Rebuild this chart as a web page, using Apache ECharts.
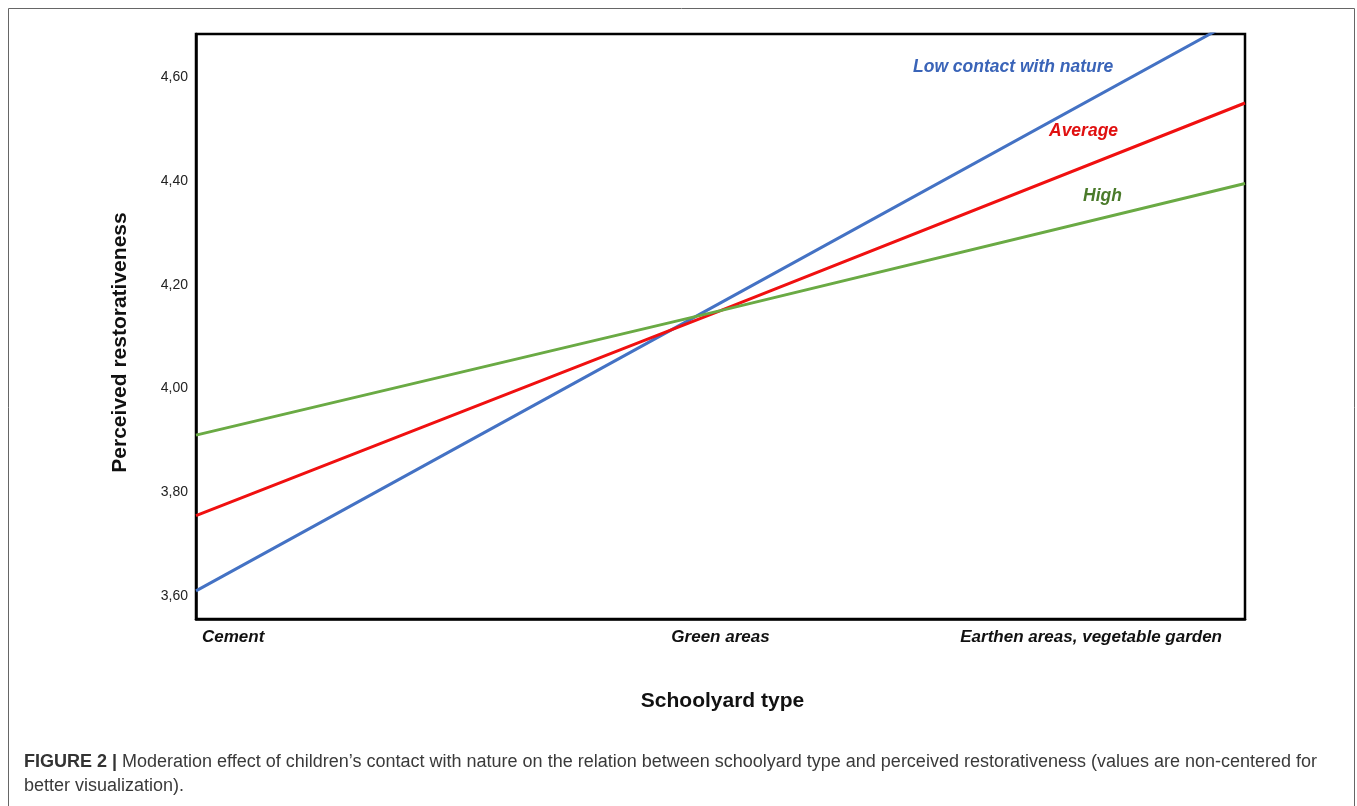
<!DOCTYPE html>
<html>
<head>
<meta charset="utf-8">
<script src="https://cdn.jsdelivr.net/npm/echarts@6/dist/echarts.min.js"></script>
<style>
html,body{margin:0;padding:0;background:#fff;}
#main{width:1357px;height:806px;}
</style>
</head>
<body>
<div id="main"></div>
<script>
// Data
var categories = ['Cement', 'Green areas', 'Earthen areas, vegetable garden'];
var lowContact = [3.61, 4.165, 4.72];
var average = [3.755, 4.15, 4.55];
var high = [3.91, 4.15, 4.395];
var yTicks = [3.6, 3.8, 4.0, 4.2, 4.4, 4.6];
var seriesNames = ['Low contact with nature', 'Average', 'High'];

var chart = echarts.init(document.getElementById('main'));
var FONT = '"Liberation Sans", Arial, sans-serif';
var XL = { fontFamily: FONT, fontSize: 17, fontWeight: 'bold', fontStyle: 'italic', color: '#111' };
var option = {
  animation: false,
  backgroundColor: '#fff',
  grid: {
    left: 196, top: 34, right: 112, bottom: 187,
    show: true, borderColor: '#000', borderWidth: 2.5, backgroundColor: 'transparent'
  },
  xAxis: {
    type: 'category',
    data: categories,
    boundaryGap: false,
    axisLine: { lineStyle: { color: '#000', width: 2.5 } },
    axisTick: { show: false },
    splitLine: { show: false },
    axisLabel: {
      margin: 10,
      alignMinLabel: 'left',
      alignMaxLabel: 'right',
      fontFamily: FONT, fontSize: 17, fontWeight: 'bold', fontStyle: 'italic', color: '#111',
      formatter: function (v, i) {
        if (i === 0) return '{l|' + v + '}';
        if (i === categories.length - 1) return '{r|' + v + '}';
        return '{c|' + v + '}';
      },
      rich: {
        l: Object.assign({ padding: [0, 0, 0, 6] }, XL),
        c: Object.assign({}, XL),
        r: Object.assign({ padding: [0, 23, 0, 0] }, XL)
      }
    },
    name: 'Schoolyard type',
    nameLocation: 'middle',
    nameGap: 72,
    nameTextStyle: { fontFamily: FONT, fontSize: 21, fontWeight: 'bold', color: '#111', padding: [0, 0, 0, 4] }
  },
  yAxis: {
    type: 'value',
    min: 3.5557,
    max: 4.683,
    axisLine: { show: true, lineStyle: { color: '#000', width: 2.5 } },
    axisTick: { show: false },
    splitLine: { show: false },
    axisLabel: {
      customValues: yTicks,
      margin: 8,
      fontFamily: FONT, fontSize: 14, color: '#222',
      formatter: function (v) { return v.toFixed(2).replace('.', ','); }
    },
    name: 'Perceived restorativeness',
    nameLocation: 'middle',
    nameGap: 65,
    nameRotate: 90,
    nameTextStyle: { fontFamily: FONT, fontSize: 21, fontWeight: 'bold', color: '#111', padding: [0, 32, 0, 0] }
  },
  series: [
    { name: seriesNames[0], type: 'line', data: lowContact, symbol: 'none', clip: true,
      lineStyle: { color: '#4472c4', width: 3 } },
    { name: seriesNames[1], type: 'line', data: average, symbol: 'none', clip: true,
      lineStyle: { color: '#f01010', width: 3 } },
    { name: seriesNames[2], type: 'line', data: high, symbol: 'none', clip: true,
      lineStyle: { color: '#6aaa44', width: 3 } }
  ],
  graphic: [
    { type: 'rect', shape: { x: 8.5, y: 8.5, width: 1346, height: 820 },
      style: { fill: 'none', stroke: '#666', lineWidth: 1 }, silent: true, z: -1 },
    { type: 'text', left: 913, top: 58,
      style: { text: seriesNames[0], fill: '#3a64b8', font: 'italic bold 17.5px ' + FONT } },
    { type: 'text', left: 1049, top: 122,
      style: { text: seriesNames[1], fill: '#e01010', font: 'italic bold 17.5px ' + FONT } },
    { type: 'text', left: 1083, top: 187,
      style: { text: seriesNames[2], fill: '#4a7a2a', font: 'italic bold 17.5px ' + FONT } },
    { type: 'text', left: 24, top: 750,
      style: {
        text: '{b|FIGURE 2 |} Moderation effect of children\u2019s contact with nature on the relation between schoolyard type and perceived restorativeness (values are non-centered for\nbetter visualization).',
        font: '18px ' + FONT, fill: '#3a3a3a', lineHeight: 24,
        rich: { b: { font: 'bold 18px ' + FONT, fill: '#333', lineHeight: 24 } }
      } }
  ]
};
chart.setOption(option);
</script>
</body>
</html>
